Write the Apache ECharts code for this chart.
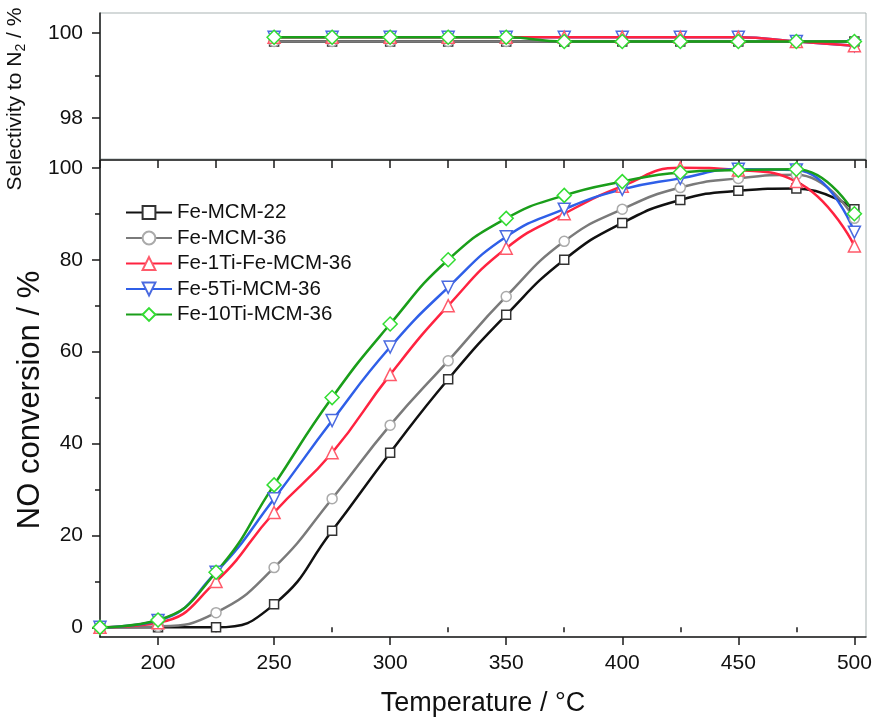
<!DOCTYPE html>
<html>
<head>
<meta charset="utf-8">
<script src="https://cdn.jsdelivr.net/npm/echarts@6/dist/echarts.min.js"></script>
<style>html,body{margin:0;padding:0;background:#fff}#chart{width:877px;height:722px}</style>
</head>
<body>
<div id="chart"></div>
<script>
// ---- data ----
const seriesNames = ['Fe-MCM-22', 'Fe-MCM-36', 'Fe-1Ti-Fe-MCM-36', 'Fe-5Ti-MCM-36', 'Fe-10Ti-MCM-36'];
const temps = [175, 200, 225, 250, 275, 300, 325, 350, 375, 400, 425, 450, 475, 500];
const convMCM22 = [0, 0, 0, 5, 21, 38, 54, 68, 80, 88, 93, 95, 95.5, 91];
const convMCM36 = [0, 0.2, 3.2, 13, 28, 44, 58, 72, 84, 91, 95.7, 97.7, 98.5, 89];
const conv1Ti = [0, 1, 10, 25, 38, 55, 70, 82.5, 90, 96, 100, 99.5, 97, 83];
const conv5Ti = [0, 1.5, 12, 28, 45, 61, 74, 85, 91, 95.3, 97.7, 99.7, 99.5, 86];
const conv10Ti = [0, 1.6, 12, 31, 50, 66, 80, 89, 94, 97, 99, 99.5, 99.7, 90];

const selTemps = [250, 275, 300, 325, 350, 375, 400, 425, 450, 475, 500];
const selMCM22 = [99.8, 99.8, 99.8, 99.8, 99.8, 99.8, 99.8, 99.8, 99.8, 99.8, 99.8];
const selMCM36 = [99.8, 99.8, 99.8, 99.8, 99.8, 99.8, 99.8, 99.8, 99.8, 99.8, 99.8];
const sel1Ti = [99.9, 99.9, 99.9, 99.9, 99.9, 99.9, 99.9, 99.9, 99.9, 99.8, 99.7];
const sel5Ti = [99.9, 99.9, 99.9, 99.9, 99.9, 99.9, 99.9, 99.9, 99.9, 99.8, 99.7];
const sel10Ti = [99.9, 99.9, 99.9, 99.9, 99.9, 99.8, 99.8, 99.8, 99.8, 99.8, 99.8];

const xLabelTicks = [200, 250, 300, 350, 400, 450, 500];
const xMinorTicks = [175, 225, 275, 325, 375, 425, 475];
const yConvLabels = [0, 20, 40, 60, 80, 100];
const yConvMinor = [10, 30, 50, 70, 90];
const ySelLabels = [98, 100];
const ySelMinor = [99];

// ---- styles ----
const styles = [
  { line: '#111111', border: '#333333', symbol: 'rect', size: 9, rotate: 0 },
  { line: '#7a7a7a', border: '#aaaaaa', symbol: 'circle', size: 10, rotate: 0 },
  { line: '#ff2340', border: '#ff5a6a', symbol: 'triangle', size: 12, rotate: 0 },
  { line: '#2f5fe8', border: '#4a6ae0', symbol: 'triangle', size: 12, rotate: 180 },
  { line: '#1a9e1a', border: '#33dd33', symbol: 'diamond', size: 14, rotate: 0 }
];
const convData = [convMCM22, convMCM36, conv1Ti, conv5Ti, conv10Ti];
const selData = [selMCM22, selMCM36, sel1Ti, sel5Ti, sel10Ti];
const selZ = [2, 2, 4, 3, 5];

const FONT = 'Liberation Sans, Arial, sans-serif';
const TXT = '#111';

function mkSeries(name, xs, ys, st, xi, yi, z) {
  return {
    name: name, type: 'line', xAxisIndex: xi, yAxisIndex: yi, z: z,
    data: xs.map((x, i) => [x, ys[i]]),
    smooth: true,
    symbol: st.symbol, symbolSize: st.size, symbolRotate: st.rotate,
    showAllSymbol: true,
    lineStyle: { color: st.line, width: 2.5 },
    itemStyle: { color: '#ffffff', borderColor: st.border, borderWidth: 1.5 },
    emphasis: { disabled: true },
    animation: false
  };
}

const series = [];
seriesNames.forEach((n, i) => series.push(mkSeries(n, selTemps, selData[i], styles[i], 0, 0, selZ[i])));
seriesNames.forEach((n, i) => series.push(mkSeries(n, temps, convData[i], styles[i], 1, 2, 2)));

const gridLeft = 100, gridRight = 11;
const axisBlack = '#1a1a1a';

const option = {
  backgroundColor: '#ffffff',
  animation: false,
  textStyle: { fontFamily: FONT },
  grid: [
    { left: gridLeft, right: gridRight, top: 13, height: 146, show: true, borderColor: '#a9b3b3', borderWidth: 1, containLabel: false },
    { left: gridLeft, right: gridRight, top: 160, bottom: 84, show: true, borderColor: '#a9b3b3', borderWidth: 1, containLabel: false }
  ],
  legend: {
    orient: 'vertical', left: 120, top: 197,
    itemWidth: 46, itemHeight: 16, itemGap: 4.5,
    textStyle: { fontSize: 20.5, color: TXT, fontFamily: FONT, lineHeight: 16 },
    data: seriesNames
  },
  xAxis: [
    { type: 'value', gridIndex: 0, min: 175, max: 505, show: false },
    { type: 'value', gridIndex: 1, min: 175, max: 505, position: 'bottom',
      axisLine: { show: true, onZero: false, lineStyle: { color: axisBlack, width: 1.5 } },
      axisTick: { show: true, inside: false, length: 8, customValues: xLabelTicks, lineStyle: { color: axisBlack, width: 1.5 } },
      axisLabel: { show: true, customValues: xLabelTicks, fontSize: 21, color: TXT, margin: 16, fontFamily: FONT },
      splitLine: { show: false },
      name: 'Temperature / °C', nameLocation: 'middle', nameGap: 53,
      nameTextStyle: { fontSize: 27, color: TXT, fontFamily: FONT } },
    { type: 'value', gridIndex: 1, min: 175, max: 505, position: 'bottom',
      axisLine: { show: false },
      axisTick: { show: true, inside: false, length: 5, customValues: xMinorTicks, lineStyle: { color: axisBlack, width: 1.5 } },
      axisLabel: { show: false }, splitLine: { show: false } },
    { type: 'value', gridIndex: 1, min: 175, max: 505, interval: 25, position: 'top',
      axisLine: { show: true, onZero: false, lineStyle: { color: axisBlack, width: 1.5 } },
      axisTick: { show: true, inside: true, length: 8, lineStyle: { color: axisBlack, width: 1.5 } },
      axisLabel: { show: false }, splitLine: { show: false } }
  ],
  yAxis: [
    { type: 'value', gridIndex: 0, min: 97.04, max: 100.47, position: 'left',
      axisLine: { show: true, onZero: false, lineStyle: { color: axisBlack, width: 1.5 } },
      axisTick: { show: true, inside: false, length: 8, customValues: ySelLabels, lineStyle: { color: axisBlack, width: 1.5 } },
      axisLabel: { show: true, customValues: ySelLabels, fontSize: 21, color: TXT, margin: 17, fontFamily: FONT },
      splitLine: { show: false } },
    { type: 'value', gridIndex: 0, min: 97.04, max: 100.47, position: 'left',
      axisLine: { show: false },
      axisTick: { show: true, inside: false, length: 5, customValues: ySelMinor, lineStyle: { color: axisBlack, width: 1.5 } },
      axisLabel: { show: false }, splitLine: { show: false } },
    { type: 'value', gridIndex: 1, min: -2.1, max: 101.7, position: 'left',
      axisLine: { show: true, onZero: false, lineStyle: { color: axisBlack, width: 1.5 } },
      axisTick: { show: true, inside: false, length: 8, customValues: yConvLabels, lineStyle: { color: axisBlack, width: 1.5 } },
      axisLabel: { show: true, customValues: yConvLabels, fontSize: 21, color: TXT, margin: 17, fontFamily: FONT },
      splitLine: { show: false } },
    { type: 'value', gridIndex: 1, min: -2.1, max: 101.7, position: 'left',
      axisLine: { show: false },
      axisTick: { show: true, inside: false, length: 5, customValues: yConvMinor, lineStyle: { color: axisBlack, width: 1.5 } },
      axisLabel: { show: false }, splitLine: { show: false } }
  ],
  graphic: [
    { type: 'text', x: 15, y: 99, rotation: Math.PI / 2,
      style: { text: 'Selectivity to N{sub|2} / %', font: '21px ' + FONT, fill: TXT,
        align: 'center', verticalAlign: 'middle',
        rich: { sub: { fontSize: 14, fontFamily: FONT, fill: TXT, padding: [12, 0, 0, 0] } } } },
    { type: 'text', x: 30, y: 400, rotation: Math.PI / 2,
      style: { text: 'NO conversion / %', font: '31px ' + FONT, fill: TXT,
        align: 'center', verticalAlign: 'middle' } }
  ],
  series: series
};

const chart = echarts.init(document.getElementById('chart'), null, { renderer: 'canvas' });
chart.setOption(option);
</script>
</body>
</html>
